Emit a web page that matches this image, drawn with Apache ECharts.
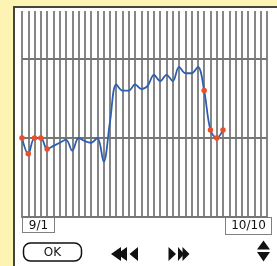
<!DOCTYPE html>
<html>
<head>
<meta charset="utf-8">
<script src="https://cdn.jsdelivr.net/npm/echarts@6/dist/echarts.min.js"></script>
<style>
html,body{margin:0;padding:0;background:#fdf4b4;}
#main{width:277px;height:266px;}
</style>
</head>
<body>
<div id="main"></div>
<script>
// days 9/1 .. 10/10
var dates = [];
for (var d = 1; d <= 30; d++) dates.push('9/' + d);
for (var d = 1; d <= 10; d++) dates.push('10/' + d);

// temperature per day
var temps = [36.50, 36.40, 36.50, 36.50, 36.43, 36.45, 36.47, 36.49, 36.42, 36.50,
             36.48, 36.47, 36.50, 36.35, 36.60, 36.84, 36.80, 36.80, 36.84, 36.81,
             36.83, 36.90, 36.86, 36.90, 36.86, 36.95, 36.91, 36.91, 36.95, 36.80,
             36.55, 36.50, 36.55];
var marked = [0, 1, 2, 3, 4, 29, 30, 31, 32];	// days drawn with red dot
var refLines = [36.5, 37.0];	// horizontal guide lines
var yMin = 36.0, yMax = 37.304;

var myChart = echarts.init(document.getElementById('main'));

var seriesData = temps.map(function (v, i) {
    if (marked.indexOf(i) >= 0) {
        return {value: v, symbol: 'circle', symbolSize: 5.5, itemStyle: {color: '#e8502c'}};
    }
    return v;
});

var ink = '#111';
var option = {
    backgroundColor: '#fdf4b4',
    animation: false,
    grid: {left: 22, right: 10, top: 11, bottom: 49},
    xAxis: {
        type: 'category',
        data: dates,
        boundaryGap: false,
        axisLine: {show: true, onZero: false, lineStyle: {color: '#767676', width: 2}},
        axisTick: {show: false},
        axisLabel: {show: false},
        splitLine: {show: true, interval: 0, lineStyle: {color: '#868686', width: 2}}
    },
    yAxis: {
        type: 'value',
        min: yMin,
        max: yMax,
        interval: 0.5,
        axisLine: {show: false},
        axisTick: {show: false},
        axisLabel: {show: false},
        splitLine: {show: false}
    },
    series: [{
        type: 'line',
        data: seriesData,
        smooth: 0.35,
        symbol: 'none',
        showAllSymbol: true,
        lineStyle: {color: '#2b5fb4', width: 1.8},
        itemStyle: {color: '#e8502c'},
        z: 3,
        markLine: {
            silent: true,
            symbol: 'none',
            label: {show: false},
            lineStyle: {color: '#767676', width: 2, type: 'solid'},
            data: refLines.map(function (v) { return {yAxis: v}; }),
            z: 2
        }
    }],
    graphic: [
        // white panel
        {type: 'rect', z: -10, shape: {x: 14, y: 7, width: 270, height: 270},
         style: {fill: '#fff', stroke: '#45443a', lineWidth: 2}},
        // date boxes (dotted)
        {type: 'rect', shape: {x: 22.5, y: 217.5, width: 32, height: 15},
         style: {fill: 'none', stroke: '#000', lineWidth: 1, lineDash: [1, 1]}},
        {type: 'text', x: 38.5, y: 225.5,
         style: {text: dates[0], font: '12px "DejaVu Sans"', fill: ink, align: 'center', verticalAlign: 'middle'}},
        {type: 'rect', shape: {x: 225.5, y: 217.5, width: 46, height: 17},
         style: {fill: 'none', stroke: '#000', lineWidth: 1, lineDash: [1, 1]}},
        {type: 'text', x: 248.5, y: 226,
         style: {text: dates[dates.length - 1], font: '12px "DejaVu Sans"', fill: ink, align: 'center', verticalAlign: 'middle'}},
        // OK button
        {type: 'rect', shape: {x: 23.5, y: 243, width: 58, height: 18, r: 7},
         style: {fill: '#fff', stroke: ink, lineWidth: 1.5}},
        {type: 'text', x: 52.5, y: 252.5,
         style: {text: 'OK', font: '12px "DejaVu Sans"', fill: ink, align: 'center', verticalAlign: 'middle'}},
        // rewind
        {type: 'polygon', shape: {points: [[111, 254], [121, 247], [121, 261]]}, style: {fill: ink}},
        {type: 'polygon', shape: {points: [[117, 254], [127, 247], [127, 261]]}, style: {fill: ink}},
        {type: 'polygon', shape: {points: [[129.5, 254], [138, 247], [138, 261]]}, style: {fill: ink}},
        // forward
        {type: 'polygon', shape: {points: [[176, 254], [168.5, 247], [168.5, 261]]}, style: {fill: ink}},
        {type: 'polygon', shape: {points: [[184, 254], [178, 247], [178, 261]]}, style: {fill: ink}},
        {type: 'polygon', shape: {points: [[189.5, 254], [182.5, 247], [182.5, 261]]}, style: {fill: ink}},
        // up / down
        {type: 'polygon', shape: {points: [[263.5, 240.5], [270, 249.5], [257, 249.5]]}, style: {fill: ink}},
        {type: 'polygon', shape: {points: [[257, 252], [270, 252], [263.5, 261.5]]}, style: {fill: ink}}
    ]
};

myChart.setOption(option);
</script>
</body>
</html>
